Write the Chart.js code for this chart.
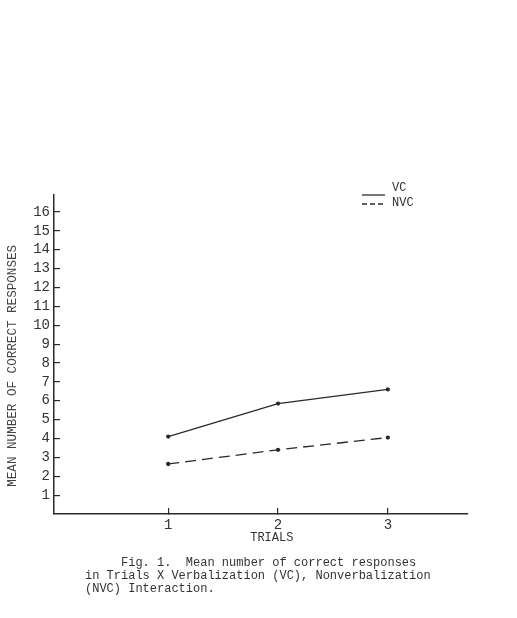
<!DOCTYPE html>
<html lang="en">
<head>
  <meta charset="UTF-8">
  <title>Fig. 1 Trials X Verbalization</title>
  <script src="https://cdn.jsdelivr.net/npm/chart.js"></script>
  <style>
    body { margin: 0; background: #fff; }
    #wrap { position: relative; width: 517px; height: 618px; }
    #caption {
      position: absolute; left: 85px; top: 557px;
      font-family: "Liberation Mono", monospace; font-size: 12px;
      line-height: 13px; color: #333; white-space: pre;
    }
  </style>
</head>
<body>
  <div id="wrap">
    <canvas id="myChart" width="517" height="618"></canvas>
    <div id="caption">     Fig. 1.  Mean number of correct responses
in Trials X Verbalization (VC), Nonverbalization
(NVC) Interaction.</div>
  </div>

  <script>
    // datos
    var trials = [1, 2, 3];
    var trialLabels = ['1', '2', '3'];
    var vcValues = [4.1, 5.85, 6.6];
    var nvcValues = [2.65, 3.4, 4.05];
    var yTicks = [1, 2, 3, 4, 5, 6, 7, 8, 9, 10, 11, 12, 13, 14, 15, 16];

    var ink = '#2a2a2a';
    var mono = '"Liberation Mono", monospace';

    function toPoints(vals) {
      return trials.map(function (t, i) { return { x: t, y: vals[i] }; });
    }

    // leyenda a mano, arriba a la derecha
    var legendPlugin = {
      id: 'typedLegend',
      afterDraw: function (chart) {
        var c = chart.ctx;
        c.save();
        c.strokeStyle = ink;
        c.fillStyle = '#333';
        c.lineWidth = 1.3;
        c.font = '12px ' + mono;
        c.textBaseline = 'middle';
        var rows = [{ y: 195, ty: 188 }, { y: 204, ty: 203 }];
        chart.data.datasets.forEach(function (ds, i) {
          c.setLineDash(i === 0 ? [] : [5, 3]);
          c.beginPath();
          c.moveTo(362, rows[i].y);
          c.lineTo(385, rows[i].y);
          c.stroke();
          c.setLineDash([]);
          c.fillText(ds.label, 392, rows[i].ty);
        });
        c.restore();
      }
    };

    var ctx = document.getElementById('myChart').getContext('2d');
    var myChart = new Chart(ctx, {
      type: 'line',
      data: {
        datasets: [{
          label: 'VC',
          data: toPoints(vcValues),
          borderColor: ink,
          backgroundColor: ink,
          borderWidth: 1.3,
          pointRadius: 1.5,
          tension: 0
        }, {
          label: 'NVC',
          data: toPoints(nvcValues),
          borderColor: ink,
          backgroundColor: ink,
          borderWidth: 1.3,
          borderDash: [11, 6],
          pointRadius: 1.5,
          tension: 0
        }]
      },
      options: {
        responsive: false,
        animation: false,
        layout: { padding: { left: 0, top: 195, right: 49, bottom: 73 } },
        plugins: { legend: { display: false }, tooltip: { enabled: false } },
        scales: {
          x: {
            type: 'linear',
            min: -0.04,
            max: 3.73,
            afterBuildTicks: function (s) { s.ticks = trials.map(function (v) { return { value: v }; }); },
            afterFit: function (s) { s.height = 31; },
            ticks: {
              padding: 9,
              color: '#333',
              font: { family: mono, size: 14 },
              callback: function (v) { return trialLabels[trials.indexOf(v)]; }
            },
            grid: { drawOnChartArea: false, tickLength: -6, color: ink, lineWidth: 1.2 },
            border: { color: ink, width: 1.5 },
            title: {
              display: true, text: '   TRIALS', color: '#333',
              font: { family: mono, size: 12 }, padding: 0
            }
          },
          y: {
            min: 0,
            max: 16.9,
            afterBuildTicks: function (s) { s.ticks = yTicks.map(function (v) { return { value: v }; }); },
            afterFit: function (s) { s.width = 54; },
            ticks: {
              padding: 10,
              color: '#333',
              font: { family: mono, size: 14 }
            },
            grid: { drawOnChartArea: false, tickLength: -6, color: ink, lineWidth: 1.2 },
            border: { color: ink, width: 1.5 },
            title: {
              display: true, text: 'MEAN NUMBER OF CORRECT RESPONSES   ', color: '#444',
              font: { family: mono, size: 12.6 }, padding: 5
            }
          }
        }
      },
      plugins: [legendPlugin]
    });
  </script>
</body>
</html>
